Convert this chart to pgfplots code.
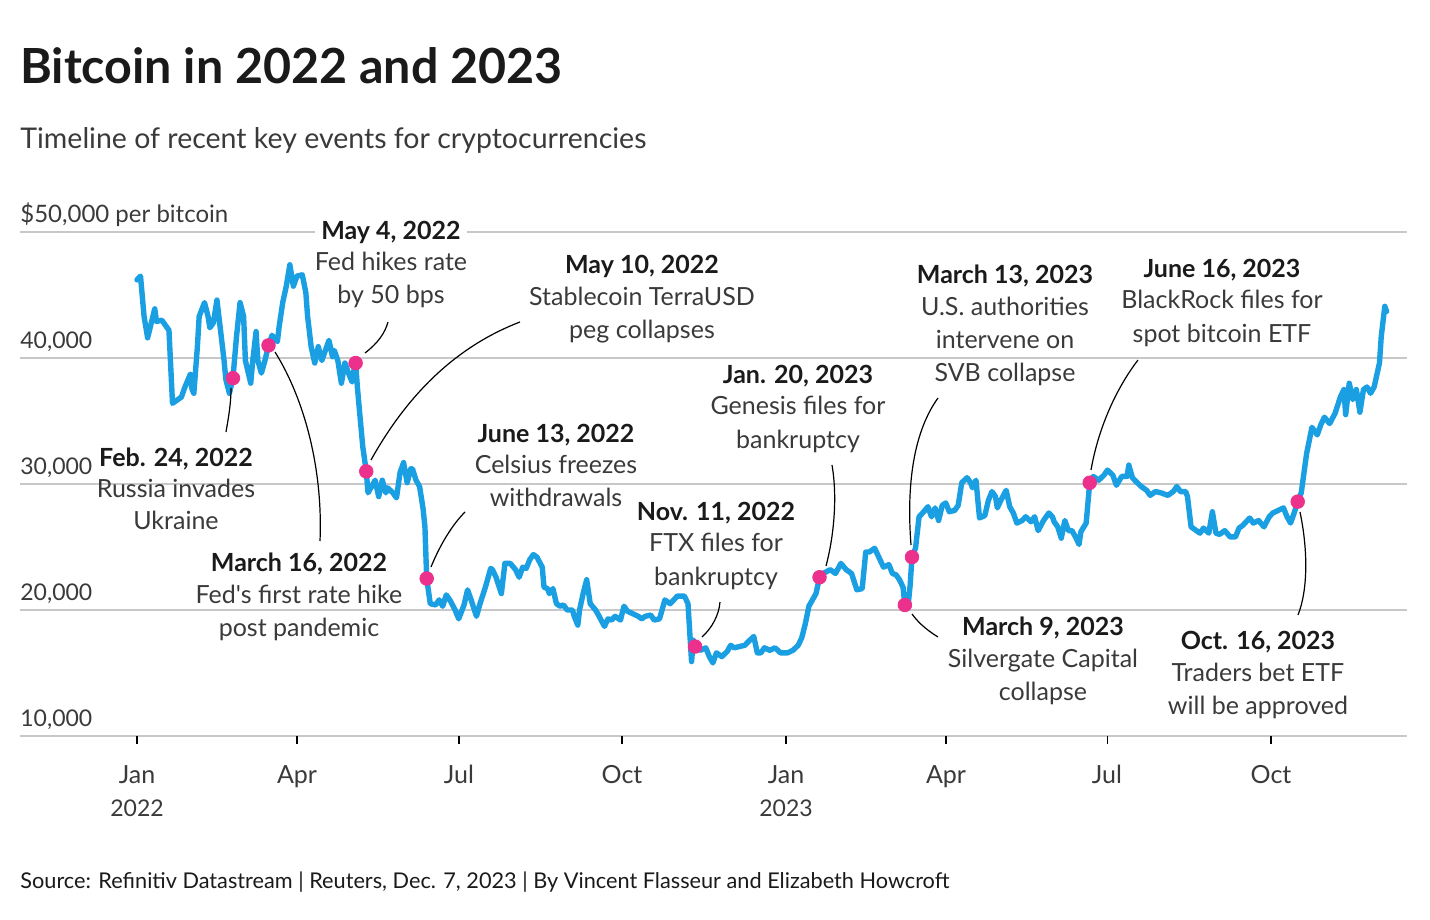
\documentclass[border=0pt]{standalone}
\usepackage{fontspec}
\setmainfont{Lato}
\newfontfamily\plainlato{Lato}
\usepackage{pgfplots}
\pgfplotsset{compat=1.18}
\definecolor{btc}{HTML}{1A9FE3}
\definecolor{dotc}{HTML}{EC318C}
\definecolor{gridc}{HTML}{C8C8C8}
\definecolor{txt}{HTML}{3A3A3A}
\definecolor{ttl}{HTML}{1A1A1A}
\newcommand{\fa}{\fontsize{12.5}{15}\selectfont}
\newcommand{\fy}{\fontsize{11.5}{14}\selectfont}
\newcommand{\fb}{\fontsize{12.5}{15}\selectfont\bfseries}
\begin{document}
\begin{tikzpicture}
\useasboundingbox (-10pt,-92pt) rectangle (705pt,368pt);
\begin{axis}[at={(0,0)}, anchor=south west, scale only axis,
  width=693.5pt, height=252pt,
  xmin=-65.8, xmax=714.5, ymin=10000, ymax=50000,
  axis line style={draw=none},
  scaled y ticks=false, scaled x ticks=false,
  ytick={10000,20000,30000,40000,50000}, yticklabels={},
  ymajorgrids, grid style={gridc, line width=1pt},
  ytick style={draw=none},
  xtick={0,90,181,273,365,455,546,638}, xticklabels={},
  xtick pos=bottom, tick align=outside, major tick length=4pt,
  xtick style={draw=black, line width=0.9pt},
  clip=false]
\addplot[btc, line width=2.7pt, line join=round, line cap=round] coordinates {
(0,46200)(2,46500)(4,43300)(6,41600)(10,43900)(11,42900)(14,43000)(17,42400)(18,42200)(20,36400)(21,36500)(25,36900)(27,37700)(30,38700)(31,37500)(32,37200)(34,40900)(35,43300)(38,44400)(40,43300)(41,42400)(43,42800)(45,44600)(47,42200)(49,39800)(50,38300)(52,37200)(54,38400)(56,41700)(58,44400)(60,43300)(61,39800)(64,38000)(65,39600)(67,42100)(68,39800)(70,38800)(72,39800)(74,41000)(76,41800)(79,41300)(80,42500)(82,44400)(84,45700)(86,47400)(88,45700)(90,46500)(93,46600)(95,45200)(96,43300)(98,40900)(100,39600)(102,40900)(104,39800)(106,40600)(108,41400)(110,40100)(111,40600)(113,39800)(115,38000)(117,39600)(119,38800)(121,38100)(122,39000)(123,39600)(124,37700)(125,36100)(127,33000)(129,31000)(130,29300)(132,29800)(134,30300)(136,29000)(138,30300)(140,29300)(141,29700)(144,29300)(146,28900)(148,30900)(150,31700)(152,30100)(154,31200)(155,31200)(157,30300)(159,29800)(161,28000)(162,26600)(163,22500)(165,20500)(168,20400)(170,20800)(172,20300)(174,21200)(176,20800)(179,20000)(181,19300)(184,20400)(186,21600)(188,20800)(191,19500)(193,20500)(196,21800)(199,23300)(200,23200)(202,22600)(205,21300)(207,23700)(210,23700)(213,23200)(215,22600)(217,23400)(219,23300)(221,24000)(223,24400)(225,24200)(228,23400)(229,21800)(231,21700)(232,21300)(234,21700)(236,20500)(238,20300)(240,20400)(242,20000)(245,20000)(246,19500)(248,18800)(249,20000)(251,21300)(253,22400)(255,20500)(258,20000)(260,19500)(263,18700)(265,19300)(267,19200)(269,19500)(272,19200)(274,20300)(276,19900)(279,19700)(282,19500)(284,19300)(286,19500)(289,19600)(291,19200)(294,19300)(297,20800)(300,20500)(304,21100)(306,21100)(308,21100)(310,20500)(311,18200)(312,15900)(313,17600)(314,17100)(317,16800)(320,17000)(322,16300)(324,15800)(326,16600)(329,16300)(332,16700)(334,17200)(336,17000)(339,17100)(342,17200)(344,17500)(347,17900)(349,16600)(351,16600)(353,17000)(356,16800)(359,17000)(362,16600)(366,16600)(369,16800)(372,17200)(374,17800)(376,18900)(378,20300)(380,20800)(382,21300)(384,22600)(386,22900)(390,23200)(393,22900)(396,23700)(399,23200)(402,22900)(405,21600)(408,21700)(410,24600)(412,24600)(415,24900)(418,24000)(420,23400)(423,23600)(425,22900)(427,22800)(429,22400)(431,21800)(432,20400)(433,20200)(434,20600)(435,22000)(436,24200)(438,24900)(440,27400)(442,27700)(445,28200)(447,27400)(449,28100)(451,27100)(453,28300)(455,28500)(457,27800)(460,27900)(462,28300)(464,30100)(467,30500)(469,30100)(470,29700)(472,30300)(474,27300)(477,27500)(479,28700)(481,29400)(483,29000)(484,28100)(486,28700)(489,29500)(491,28200)(493,27700)(495,26900)(498,27100)(500,27400)(503,27000)(505,27400)(507,26300)(510,27100)(513,27700)(515,27400)(516,27000)(518,26600)(520,25700)(522,27100)(524,26300)(526,26300)(528,25800)(530,25200)(531,26200)(534,26900)(536,30100)(538,30600)(541,30300)(544,30700)(546,31100)(549,30700)(551,29900)(554,30600)(557,30600)(558,31500)(560,30500)(562,30200)(565,29800)(568,29500)(570,29100)(573,29400)(576,29300)(580,29100)(583,29400)(585,29800)(587,29400)(590,29400)(591,29000)(593,26600)(596,26300)(598,26100)(600,26500)(603,26100)(605,27800)(607,26100)(609,26000)(612,26300)(615,25800)(618,25800)(620,26500)(622,26700)(626,27300)(628,26900)(631,27100)(634,26600)(637,27400)(639,27700)(642,27900)(645,28100)(647,27400)(649,26900)(651,27700)(653,28600)(655,29300)(658,32400)(661,34500)(664,33900)(666,34700)(668,35300)(671,34800)(674,35600)(677,36900)(679,37500)(680,35500)(682,38000)(684,36700)(686,37500)(688,35700)(690,37500)(692,37700)(694,37200)(696,37700)(699,39600)(700,41700)(702,44100)(703,43700)
};
\addplot[only marks, mark=*, mark size=3.4pt, dotc, mark options={draw=dotc, fill=dotc}] coordinates {
(54,38400)(74,41000)(123,39600)(129,31000)(163,22500)(314,17100)(384,22600)(432,20400)(436,24200)(536,30100)(653,28600)
};
\end{axis}
\begin{scope}[x=0.5pt, y=-0.5pt, shift={(-10pt,368pt)}, every node/.style={inner sep=0pt}]
% title block
\node[anchor=base west, text=ttl, font=\fontsize{24.2}{28}\selectfont\bfseries] at (20,84) {Bitcoin in 2022 and 2023};
\node[anchor=base west, text=txt, font=\fontsize{14.25}{17}\selectfont] at (20,149) {Timeline of recent key events for cryptocurrencies};
\node[anchor=base west, text=ttl, font=\fontsize{10.85}{13}\selectfont] at (20,889) {Source: Refinitiv Datastream | Reuters, Dec. 7, 2023 | By Vincent Flasseur and Elizabeth Howcroft};
% y labels
\node[anchor=base west, text=txt, font=\fontsize{12}{14}\selectfont] at (20,223) {\$50,000 per bitcoin};
\node[anchor=base west, text=txt, font=\fy] at (20,349) {40,000};
\node[anchor=base west, text=txt, font=\fy] at (20,475) {30,000};
\node[anchor=base west, text=txt, font=\fy] at (20,601) {20,000};
\node[anchor=base west, text=txt, font=\fy] at (20,727) {10,000};
% x labels
\foreach \xx/\lab in {137/Jan,297/Apr,459/Jul,622/Oct,786/Jan,946/Apr,1107/Jul,1271/Oct}
  \node[anchor=base, text=txt, font=\fa] at (\xx,784) {\lab};
\node[anchor=base, text=txt, font=\fy] at (137,817) {2022};
\node[anchor=base, text=txt, font=\fy] at (786,817) {2023};
% connectors
\begin{scope}[black, line width=0.6pt]
\draw (231,388) .. controls (231,405) and (228,420) .. (226,432);
\draw (275,352) .. controls (305,400) and (323,470) .. (320,541);
\draw (365,353) .. controls (378,343) and (385,333) .. (388,322);
\draw (371,460) .. controls (410,390) and (460,345) .. (520,322);
\draw (431,567) .. controls (440,545) and (452,525) .. (465,512);
\draw (702,637) .. controls (712,628) and (719,615) .. (720,602);
\draw (826,566) .. controls (833,540) and (838,500) .. (832,465);
\draw (911,545) .. controls (906,480) and (915,430) .. (938,398);
\draw (1091,470) .. controls (1098,430) and (1115,390) .. (1138,360);
\draw (912,614) .. controls (920,625) and (930,632) .. (938,637);
\draw (1300,512) .. controls (1308,550) and (1308,590) .. (1298,615);
\end{scope}
% annotations
\node[anchor=base, text=ttl, font=\fb] at (176,467) {Feb. 24, 2022};
\node[anchor=base, text=txt, font=\fa] at (176,498) {Russia invades};
\node[anchor=base, text=txt, font=\fa] at (176,530) {Ukraine};
\node[anchor=base, text=ttl, font=\fb] at (299,572) {March 16, 2022};
\node[anchor=base, text=txt, font=\fa\plainlato] at (299,604) {Fed's first rate hike};
\node[anchor=base, text=txt, font=\fa] at (299,637) {post pandemic};
\node[anchor=base, text=ttl, font=\fb, fill=white, inner xsep=3pt, inner ysep=1pt] at (391,240) {May 4, 2022};
\node[anchor=base, text=txt, font=\fa] at (391,271) {Fed hikes rate};
\node[anchor=base, text=txt, font=\fa] at (391,304) {by 50 bps};
\node[anchor=base, text=ttl, font=\fb] at (642,274) {May 10, 2022};
\node[anchor=base, text=txt, font=\fa] at (642,306) {Stablecoin TerraUSD};
\node[anchor=base, text=txt, font=\fa] at (642,339) {peg collapses};
\node[anchor=base, text=ttl, font=\fb] at (556,443) {June 13, 2022};
\node[anchor=base, text=txt, font=\fa] at (556,474) {Celsius freezes};
\node[anchor=base, text=txt, font=\fa] at (556,507) {withdrawals};
\node[anchor=base, text=ttl, font=\fb] at (716,521) {Nov. 11, 2022};
\node[anchor=base, text=txt, font=\fa] at (716,552) {FTX files for};
\node[anchor=base, text=txt, font=\fa] at (716,586) {bankruptcy};
\node[anchor=base, text=ttl, font=\fb] at (798,384) {Jan. 20, 2023};
\node[anchor=base, text=txt, font=\fa] at (798,415) {Genesis files for};
\node[anchor=base, text=txt, font=\fa] at (798,449) {bankruptcy};
\node[anchor=base, text=ttl, font=\fb] at (1005,284) {March 13, 2023};
\node[anchor=base, text=txt, font=\fa] at (1005,316) {U.S. authorities};
\node[anchor=base, text=txt, font=\fa] at (1005,349) {intervene on};
\node[anchor=base, text=txt, font=\fa] at (1005,382) {SVB collapse};
\node[anchor=base, text=ttl, font=\fb] at (1222,278) {June 16, 2023};
\node[anchor=base, text=txt, font=\fa] at (1222,309) {BlackRock files for};
\node[anchor=base, text=txt, font=\fa] at (1222,343) {spot bitcoin ETF};
\node[anchor=base, text=ttl, font=\fb] at (1043,636) {March 9, 2023};
\node[anchor=base, text=txt, font=\fa] at (1043,668) {Silvergate Capital};
\node[anchor=base, text=txt, font=\fa] at (1043,701) {collapse};
\node[anchor=base, text=ttl, font=\fb] at (1258,650) {Oct. 16, 2023};
\node[anchor=base, text=txt, font=\fa] at (1258,682) {Traders bet ETF};
\node[anchor=base, text=txt, font=\fa] at (1258,715) {will be approved};
\end{scope}
\end{tikzpicture}
\end{document}
